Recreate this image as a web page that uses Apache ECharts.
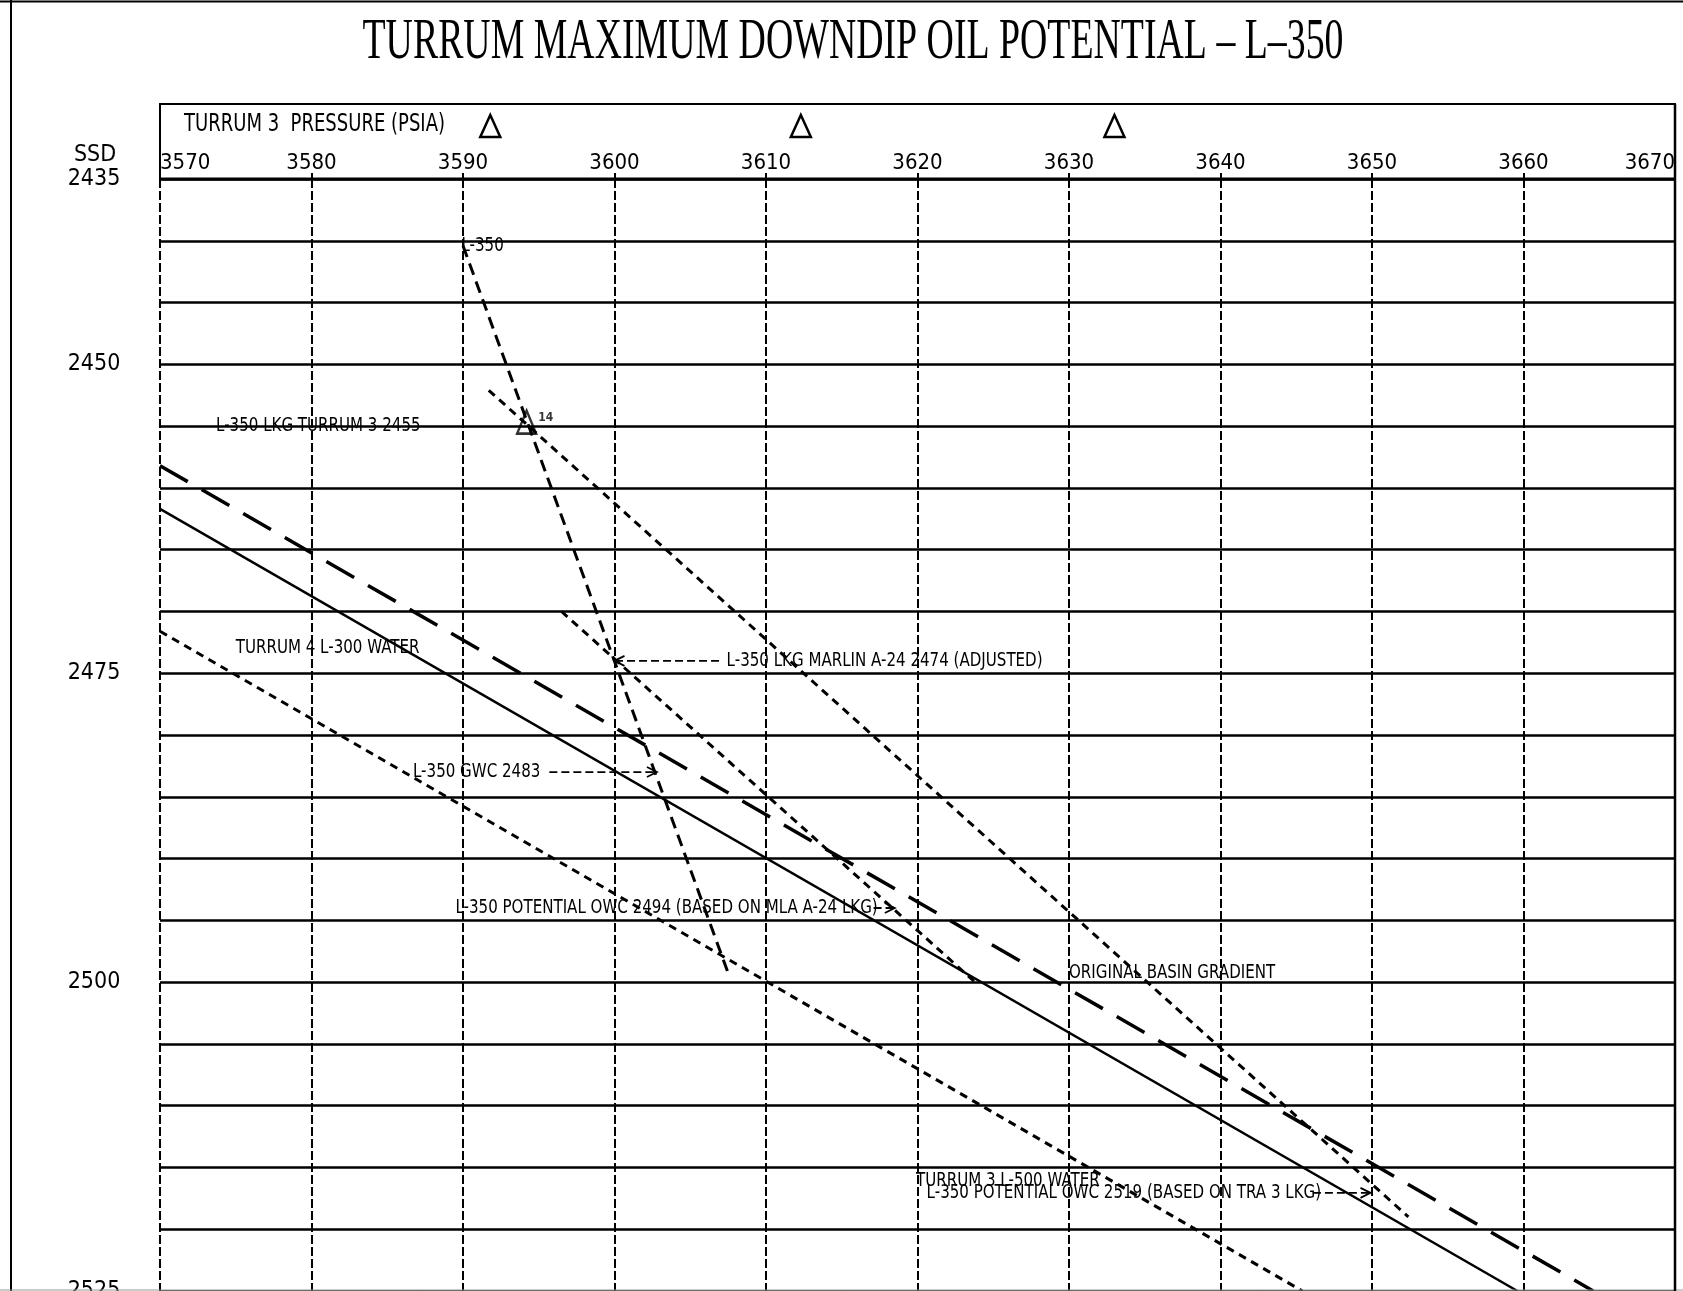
<!DOCTYPE html>
<html>
<head>
<meta charset="utf-8">
<title>Turrum Maximum Downdip Oil Potential – L-350</title>
<script src="https://cdn.jsdelivr.net/npm/echarts@6/dist/echarts.min.js"></script>
<style>
  html, body { margin: 0; padding: 0; background: #fff; }
  #chart { width: 1683px; height: 1291px; }
</style>
</head>
<body>
<div id="chart"></div>
<script>
// ---------------------------------------------------------------------------
// Data: pressure in psia, depth in m SSD
// ---------------------------------------------------------------------------
const pressureRange = [3570, 3670];
const depthRange = [2435, 2525];
const depthLabels = [2435, 2450, 2475, 2500, 2525];

// Pressure gradient lines, [pressure, depth] end points
const turrum4L300Water      = [[3570, 2461.7], [3659.6, 2525]];
const originalBasinGradient = [[3570, 2458.2], [3664.6, 2525]];
const turrum3L500Water      = [[3570, 2471.6], [3645.4, 2525]];
const l350GasGradient       = [[3590.0, 2440.4], [3607.6, 2499.6]];
const turrum3OilGradient    = [[3591.7, 2452.1], [3652.4, 2519]];
const marlinOilGradient     = [[3596.5, 2470.0], [3623.8, 2500.0]];

// Turrum 3 pressure measurement (hollow triangle) and its tag
const turrum3Lkg = [[3594.2, 2455]];
const turrum3LkgTag = '14';
// Pressure markers along the header
const turrum3PressureMarks = [3591.8, 3612.3, 3633.0];

// Depths quoted by the annotations
const lkgTurrum3   = 2455;
const lkgMarlinA24 = 2474;
const gwcL350      = 2483;
const owcMla       = 2494;
const owcTra3      = 2519;

// ---------------------------------------------------------------------------
// Layout and styling
// ---------------------------------------------------------------------------
const GRID = { left: 160, top: 179, width: 1515, height: 1112 };
const NARROW = '"Liberation Sans Narrow", "DejaVu Sans Condensed", "Arial Narrow", sans-serif';
const TITLE_FONT = '56px "Liberation Serif", "DejaVu Serif", serif';
const ANN_FONT = '19px ' + NARROW;
const HEADER_FONT = '24px ' + NARROW;

const measureCtx = document.createElement('canvas').getContext('2d');
function textWidth(text, font) {
  measureCtx.font = font;
  return measureCtx.measureText(text).width;
}
// horizontal compression used for the condensed lettering
const titleText = 'TURRUM MAXIMUM DOWNDIP OIL POTENTIAL \u2013 L\u2013350';
const titleScale = 981 / textWidth(titleText, TITLE_FONT);
const headerText = 'TURRUM 3  PRESSURE (PSIA)';
const headerScale = 261 / textWidth(headerText, HEADER_FONT);
const annScale = 316 / textWidth('L-350 LKG MARLIN A-24 2474 (ADJUSTED)', ANN_FONT);

// Text annotations: p = pressure where the text starts, d = depth of its middle
const annotations = [
  { text: 'L-350', p: 3589.9, d: l350GasGradient[0][1] },
  { text: 'L-350 LKG TURRUM 3 2455', p: 3573.7, d: lkgTurrum3 },
  { text: 'TURRUM 4 L-300 WATER', p: 3575.0, d: 2473.0 },
  { text: 'L-350 LKG MARLIN A-24 2474 (ADJUSTED)', p: 3607.4, d: lkgMarlinA24,
    arrow: { from: 3606.9, to: 3600.0 } },
  { text: 'L-350 GWC 2483', p: 3586.7, d: gwcL350,
    arrow: { from: 3595.7, to: 3602.8 } },
  { text: 'L-350 POTENTIAL OWC 2494 (BASED ON MLA A-24 LKG)', p: 3589.5, d: owcMla,
    arrow: { from: 3617.1, to: 3618.5 } },
  { text: 'ORIGINAL BASIN GRADIENT', p: 3630.0, d: 2499.3 },
  { text: 'TURRUM 3 L-500 WATER', p: 3619.9, d: 2516.1 },
  { text: 'L-350 POTENTIAL OWC 2519 (BASED ON TRA 3 LKG)', p: 3620.6, d: owcTra3, dy: -24,
    arrow: { from: 3646.1, to: 3649.9 } }
];

function gradientLine(name, data, dash, width) {
  return {
    type: 'line', name: name, data: data, symbol: 'none', showSymbol: false,
    silent: true, z: 3,
    lineStyle: { color: '#000', width: width, type: dash, cap: 'butt' }
  };
}

function renderAnnotation(params, api) {
  const a = annotations[params.dataIndex];
  const pt = api.coord([a.p, a.d]);
  const y = pt[1] + (a.dy || 0);
  const children = [{
    type: 'text', x: pt[0], y: y, scaleX: annScale,
    style: { text: a.text, font: ANN_FONT, fill: '#000', align: 'left', verticalAlign: 'middle' }
  }];
  if (a.arrow) {
    const x1 = api.coord([a.arrow.from, a.d])[0];
    const x2 = api.coord([a.arrow.to, a.d])[0];
    const dir = x2 > x1 ? 1 : -1;
    children.push({
      type: 'line', shape: { x1: x1, y1: y, x2: x2, y2: y },
      style: { stroke: '#000', lineWidth: 1.8, lineDash: [8, 4] }
    });
    children.push({
      type: 'polyline',
      shape: { points: [[x2 - dir * 10, y - 5], [x2, y], [x2 - dir * 10, y + 5]] },
      style: { stroke: '#000', lineWidth: 1.8, fill: null }
    });
  }
  return { type: 'group', children: children };
}

function renderHeaderMark(params, api) {
  const pt = api.coord([api.value(0), depthRange[0]]);
  const cx = pt[0], cy = pt[1] - 53;
  return {
    type: 'polygon',
    shape: { points: [[cx, cy - 11], [cx + 10, cy + 11], [cx - 10, cy + 11]] },
    style: { stroke: '#000', lineWidth: 2.5, fill: null }
  };
}

const chart = echarts.init(document.getElementById('chart'), null, { renderer: 'canvas' });

chart.setOption({
  animation: false,
  backgroundColor: '#fff',
  grid: {
    left: GRID.left, top: GRID.top, width: GRID.width, height: GRID.height,
    containLabel: false, outerBoundsMode: 'none'
  },
  xAxis: {
    type: 'value', position: 'top',
    min: pressureRange[0], max: pressureRange[1], interval: 10,
    axisLine: { show: false },
    axisTick: { show: true, inside: false, length: 6, lineStyle: { color: '#000', width: 2 } },
    axisLabel: {
      color: '#000', fontSize: 22, fontFamily: NARROW, margin: 5,
      showMinLabel: true, showMaxLabel: true,
      alignMinLabel: 'left', alignMaxLabel: 'right',
      formatter: function (v) { return String(v); }
    },
    splitLine: { show: true, lineStyle: { color: '#000', width: 2, type: [9, 3] } }
  },
  yAxis: {
    type: 'value', inverse: true,
    min: depthRange[0], max: depthRange[1], interval: 5,
    axisLine: { show: false },
    axisTick: { show: false },
    axisLabel: {
      color: '#000', fontSize: 23, fontFamily: NARROW, margin: 66, align: 'center',
      showMinLabel: true, showMaxLabel: true,
      formatter: function (v) { return depthLabels.indexOf(v) >= 0 ? String(v) : ''; }
    },
    splitLine: { show: true, lineStyle: { color: '#000', width: 2.5 } }
  },
  graphic: {
    elements: [
      // outer border
      { type: 'line', z: 10, shape: { x1: 11, y1: 0, x2: 11, y2: 1291 }, style: { stroke: '#000', lineWidth: 2 } },
      { type: 'line', z: 10, shape: { x1: 0, y1: 1.5, x2: 1683, y2: 1.5 }, style: { stroke: '#000', lineWidth: 2 } },
      { type: 'line', z: 10, shape: { x1: 0, y1: 1290, x2: 1683, y2: 1290 }, style: { stroke: '#999', lineWidth: 1 } },
      // header box and right edge of the plot
      { type: 'rect', z: 10, shape: { x: GRID.left, y: 104, width: GRID.width, height: GRID.top - 104 },
        style: { fill: null, stroke: '#000', lineWidth: 2 } },
      { type: 'line', z: 10, shape: { x1: GRID.left, y1: GRID.top, x2: GRID.left + GRID.width, y2: GRID.top },
        style: { stroke: '#000', lineWidth: 3 } },
      { type: 'line', z: 10, shape: { x1: GRID.left + GRID.width, y1: 104, x2: GRID.left + GRID.width, y2: 1291 },
        style: { stroke: '#000', lineWidth: 2.5 } },
      // titles
      { type: 'text', z: 10, x: 853, y: 43, scaleX: titleScale,
        style: { text: titleText, font: TITLE_FONT, fill: '#000', align: 'center', verticalAlign: 'middle' } },
      { type: 'text', z: 10, x: 184, y: 125, scaleX: headerScale,
        style: { text: headerText, font: HEADER_FONT, fill: '#000', align: 'left', verticalAlign: 'middle' } },
      { type: 'text', z: 10, x: 95, y: 155,
        style: { text: 'SSD', font: '23px ' + NARROW, fill: '#000', align: 'center', verticalAlign: 'middle' } }
    ]
  },
  series: [
    gradientLine('Turrum 4 L-300 water', turrum4L300Water, 'solid', 2.4),
    gradientLine('Original basin gradient', originalBasinGradient, [32, 16], 3.5),
    gradientLine('Turrum 3 L-500 water', turrum3L500Water, [8, 6], 3),
    gradientLine('L-350 gas gradient', l350GasGradient, [12, 7], 3),
    gradientLine('L-350 oil from Turrum 3 LKG', turrum3OilGradient, [8, 6], 3),
    gradientLine('L-350 oil from Marlin A-24 LKG', marlinOilGradient, [8, 6], 3),
    {
      type: 'scatter', name: 'Turrum 3 LKG', data: turrum3Lkg, z: 4, silent: true,
      symbol: 'triangle', symbolSize: [19, 23], symbolOffset: [0, -4],
      itemStyle: { color: 'rgba(0,0,0,0)', borderColor: '#000', borderWidth: 2.5 },
      label: { show: true, position: 'right', distance: 1, offset: [0, -4],
        formatter: turrum3LkgTag, fontSize: 12, fontWeight: 'bold', color: '#000', fontFamily: NARROW }
    },
    {
      type: 'custom', name: 'Turrum 3 pressure marks', coordinateSystem: 'cartesian2d',
      clip: false, silent: true, z: 5,
      data: turrum3PressureMarks.map(function (p) { return [p, depthRange[0]]; }),
      renderItem: renderHeaderMark
    },
    {
      type: 'custom', name: 'Annotations', coordinateSystem: 'cartesian2d',
      clip: false, silent: true, z: 6,
      data: annotations.map(function (a) { return [a.p, a.d]; }),
      renderItem: renderAnnotation
    }
  ]
});
</script>
</body>
</html>
